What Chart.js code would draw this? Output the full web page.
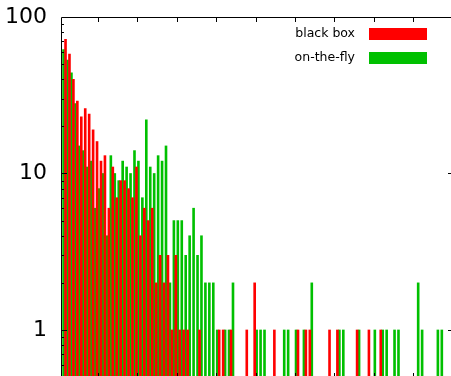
<!DOCTYPE html>
<html>
<head>
<meta charset="utf-8">
<script src="https://cdn.jsdelivr.net/npm/chart.js@4.4.1/dist/chart.umd.min.js"></script>
<style>
html, body { margin: 0; padding: 0; background: #fff; overflow: hidden; }
canvas { display: block; }
</style>
</head>
<body>
<canvas id="histChart" width="451" height="376"></canvas>
<script>
// histogram bins (x values)
const bins = [
  1, 2, 3, 4, 5, 6, 7, 8, 9, 10,
  11, 12, 13, 14, 15, 16, 17, 18, 19, 20,
  21, 22, 23, 24, 25, 26, 27, 28, 29, 30,
  31, 32, 33, 34, 35, 36, 37, 38, 39, 40,
  41, 42, 43, 44, 45, 46, 47, 48, 49, 50,
  51, 52, 53, 54, 55, 56, 57, 58, 59, 60,
  61, 62, 63, 64, 65, 66, 67, 68, 69, 70,
  71, 72, 73, 74, 75, 76, 77, 78, 79, 80,
  81, 82, 83, 84, 85, 86, 87, 88, 89, 90,
  91, 92, 93, 94, 95, 96, 97, 98, 99
];
const seriesNames = ['black box', 'on-the-fly'];
// counts per bin, null = empty bin (first red bar sits behind the axis)
const blackBox = [
  null, 72, 58, 40, 29, 23, 26, 24, 19, 16,
  12, 13, 6, 11, 7, 9, 9, 8, 7, 11,
  4, 6, 5, 6, 2, 3, 2, 3, 1, 3,
  1, 1, 1, null, null, 1, null, null, null, null,
  1, 1, null, 1, null, null, null, 1, null, 2,
  null, null, null, null, 1, null, null, null, null, null,
  1, null, 1, 1, null, null, null, null, 1, null,
  1, null, null, null, null, 1, null, null, 1, null,
  null, 1, null, null, null, null, null, null, null, null,
  null, null, null, null, null, null, null, null, null
];
const onTheFly = [
  62, 53, 44, 28, 15, 14, 11, 12, 6, 8,
  10, 4, 13, 10, 9, 12, 11, 10, 14, 12,
  7, 22, 11, 10, 13, 12, 15, 2, 5, 5,
  5, 3, 4, 6, 3, 4, 2, 2, 2, 1,
  null, 1, 1, 2, null, null, null, null, null, 1,
  1, 1, null, null, null, null, 1, 1, null, 1,
  null, 1, null, 2, null, null, null, null, null, null,
  1, 1, null, null, null, 1, null, null, null, 1,
  null, 1, 1, null, 1, 1, null, null, null, null,
  2, 1, null, null, null, 1, 1, null, null
];
const yTickValues = [1, 10, 100];
const xTickValues = [10, 20, 30, 40, 50, 60, 70, 80, 90];
const seriesColors = ['#ff0000', '#00c000'];

// gnuplot style frame: left + top border, inward ticks, key in the corner
const framePlugin = {
  id: 'frame',
  afterDatasetsDraw(chart) {
    const { ctx, chartArea: a, scales: { x, y } } = chart;
    ctx.save();
    ctx.strokeStyle = '#000';
    ctx.lineWidth = 1;
    ctx.beginPath();
    ctx.moveTo(a.left + 0.5, a.bottom);
    ctx.lineTo(a.left + 0.5, a.top + 0.5);
    ctx.lineTo(a.right, a.top + 0.5);
    xTickValues.forEach(v => {
      const px = Math.round(x.getPixelForValue(v)) + 0.5;
      ctx.moveTo(px, a.top);
      ctx.lineTo(px, a.top + 5);
      ctx.moveTo(px, a.bottom);
      ctx.lineTo(px, a.bottom - 3);
    });
    for (let d = 0.1; d <= 10; d *= 10) {
      for (let m = 1; m < 10; m++) {
        const v = d * m;
        if (v < y.min || v > y.max) continue;
        const py = Math.round(y.getPixelForValue(v)) + 0.5;
        ctx.moveTo(a.left, py);
        ctx.lineTo(a.left + (m === 1 ? 6 : 3), py);
        // right border sits just off the picture, only major ticks reach in
        if (m === 1) {
          ctx.moveTo(a.right, py);
          ctx.lineTo(a.right - 3, py);
        }
      }
    }
    ctx.stroke();
    ctx.restore();
  },
  afterDraw(chart) {
    const { ctx } = chart;
    ctx.save();
    ctx.font = '12.5px "DejaVu Sans"';
    ctx.fillStyle = '#000';
    ctx.textAlign = 'right';
    ctx.textBaseline = 'middle';
    chart.data.datasets.forEach((ds, i) => {
      const cy = 34 + i * 24;
      ctx.fillText(ds.label, 355, cy);
      ctx.fillStyle = ds.backgroundColor;
      ctx.fillRect(369, cy - 6, 58, 12);
      ctx.fillStyle = '#000';
    });
    ctx.restore();
  }
};

new Chart(document.getElementById('histChart'), {
  type: 'bar',
  data: {
    datasets: [
      {
        label: seriesNames[0],
        data: bins.map((b, i) => ({ x: b, y: blackBox[i] })),
        backgroundColor: seriesColors[0]
      }, {
        label: seriesNames[1],
        data: bins.map((b, i) => ({ x: b, y: onTheFly[i] })),
        backgroundColor: seriesColors[1]
      }
    ]
  },
  options: {
    responsive: false,
    animation: false,
    devicePixelRatio: 1,
    layout: { padding: { top: 17, right: 0, bottom: 0, left: 0 } },
    datasets: { bar: { categoryPercentage: 1, barPercentage: 1, borderWidth: 0 } },
    plugins: { legend: { display: false }, tooltip: { enabled: false } },
    scales: {
      x: {
        type: 'linear',
        display: false,
        offset: false,
        min: 0.6,
        max: 99.58
      },
      y: {
        type: 'logarithmic',
        min: 0.508,
        max: 100,
        afterBuildTicks: scale => { scale.ticks = yTickValues.map(v => ({ value: v })); },
        afterFit: scale => {
          scale.width = 61;
          scale.paddingTop = 0;
          scale.paddingBottom = 0;
        },
        grid: { display: false, drawTicks: false },
        border: { display: false },
        ticks: {
          color: '#000',
          padding: 14,
          font: { family: 'DejaVu Sans', size: 22 },
          callback: v => String(v)
        }
      }
    }
  },
  plugins: [framePlugin]
});
</script>
</body>
</html>
